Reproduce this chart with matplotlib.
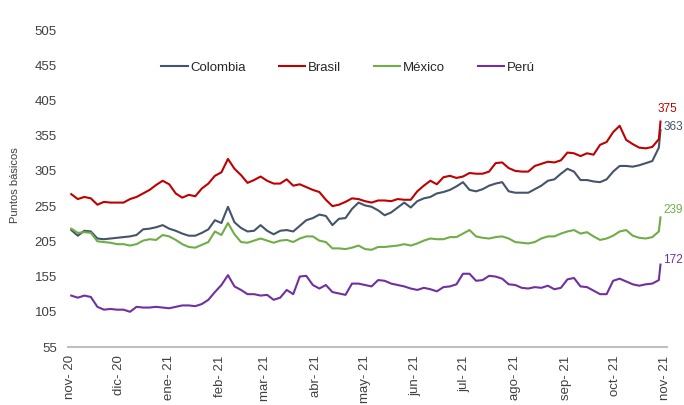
import matplotlib
matplotlib.use("Agg")
import matplotlib.pyplot as plt
import pandas as pd

plt.rcParams['font.family'] = ['Liberation Sans', 'DejaVu Sans']

# values, one every 4 days from 2 nov 2020, plus the last day
colombia = [221, 213, 220, 219, 209, 208, 209, 210, 211, 212, 214, 222, 223, 225, 228, 223,
            220, 216, 213, 213, 217, 222, 235, 231, 254, 232, 224, 219, 220, 228, 220, 215,
            220, 221, 219, 227, 235, 238, 243, 241, 228, 237, 238, 251, 260, 256, 254, 249,
            242, 246, 253, 260, 253, 262, 266, 268, 273, 275, 278, 283, 289, 278, 276, 279,
            284, 287, 289, 276, 274, 274, 274, 279, 284, 291, 293, 301, 308, 304, 292, 292,
            290, 289, 293, 304, 312, 312, 311, 313, 316, 319, 338, 363]
brasil = [272, 265, 268, 266, 257, 261, 260, 260, 260, 265, 268, 273, 278, 285, 291, 286,
          273, 267, 271, 269, 280, 287, 298, 303, 322, 308, 299, 288, 292, 297, 291, 287,
          287, 293, 284, 286, 282, 278, 275, 264, 255, 257, 261, 266, 265, 262, 260, 263,
          263, 262, 265, 264, 264, 276, 284, 291, 286, 296, 298, 295, 297, 302, 301, 301,
          304, 316, 317, 309, 305, 304, 304, 312, 315, 318, 317, 320, 331, 330, 326, 330,
          328, 342, 346, 360, 369, 349, 343, 338, 337, 339, 350, 375]
mexico = [223, 217, 218, 217, 205, 204, 203, 201, 201, 199, 201, 206, 208, 207, 214, 212,
          207, 201, 197, 196, 200, 204, 219, 214, 231, 215, 204, 203, 206, 209, 206, 203,
          206, 207, 204, 209, 212, 212, 206, 204, 195, 195, 194, 196, 199, 194, 193, 197,
          197, 198, 199, 201, 199, 202, 206, 209, 208, 208, 211, 211, 216, 221, 212, 210,
          209, 211, 212, 209, 204, 203, 202, 204, 209, 212, 212, 216, 219, 221, 216, 218,
          212, 207, 209, 213, 219, 221, 213, 210, 209, 211, 219, 239]
peru = [128, 125, 128, 126, 112, 108, 109, 108, 108, 105, 112, 111, 111, 112, 111, 110,
        112, 114, 114, 113, 116, 122, 133, 143, 157, 141, 136, 130, 130, 128, 129, 122,
        125, 136, 130, 155, 156, 143, 138, 143, 133, 131, 129, 145, 145, 143, 141, 150,
        149, 145, 143, 141, 138, 136, 139, 137, 134, 140, 141, 144, 159, 159, 149, 150,
        156, 155, 152, 144, 143, 139, 138, 140, 139, 142, 137, 139, 151, 153, 141, 140,
        135, 130, 130, 149, 152, 148, 144, 142, 144, 145, 150, 172]

dates = list(pd.date_range('2020-11-02', periods=91, freq='4D')) + [pd.Timestamp('2021-10-29')]

series = ['Colombia', 'Brasil', 'México', 'Perú']
colors = ['#44546A', '#C00000', '#70AD47', '#7030A0']
month_labels = ['nov- 20', 'dic- 20', 'ene- 21', 'feb- 21', 'mar- 21', 'abr- 21', 'may- 21',
                'jun- 21', 'jul- 21', 'ago- 21', 'sep- 21', 'oct- 21', 'nov- 21']
# end label offsets in pixels (dx, dy)
end_offsets = [(3, 3), (-3, 13), (3, 7), (3, 5)]

fig = plt.figure(figsize=(6.84, 4.05), dpi=100)
ax = fig.add_axes([68 / 684, 58 / 405, 599 / 684, 317 / 405])

for name, vals, c, off in zip(series, [colombia, brasil, mexico, peru], colors, end_offsets):
    ax.plot(dates, vals, color=c, lw=1.5, label=name)
    ax.annotate(f"{vals[-1]:.0f}", xy=(dates[-1], vals[-1]), xytext=off,
                textcoords='offset pixels', color=c, fontsize=8.5, va='center', ha='left',
                annotation_clip=False)

ax.set_ylim(55, 505)
ax.set_yticks(range(55, 506, 50))
ax.set_xlim(pd.Timestamp('2020-10-31'), pd.Timestamp('2021-11-02'))
ax.set_xticks(pd.date_range('2020-11-01', '2021-11-01', freq='MS'))
ax.set_xticklabels(month_labels, rotation=90)

for s in ['top', 'right', 'left']:
    ax.spines[s].set_visible(False)
ax.spines['bottom'].set_color('#BFBFBF')
ax.spines['bottom'].set_linewidth(1.5)
ax.tick_params(axis='both', length=0, labelsize=9.5, colors='#404040')
ax.tick_params(axis='y', pad=8)
ax.tick_params(axis='x', pad=6)

fig.text(15 / 684, 1 - 185 / 405, 'Puntos básicos', rotation=90, ha='center', va='center',
         fontsize=8, color='#404040')

ax.legend(loc='center', bbox_to_anchor=(348 / 684, 1 - 68 / 405), bbox_transform=fig.transFigure,
          ncol=4, frameon=False, fontsize=9.5, handlelength=2.0, handletextpad=0.2,
          columnspacing=2.5, labelcolor='#262626')

fig.savefig('out.png', dpi=100)
